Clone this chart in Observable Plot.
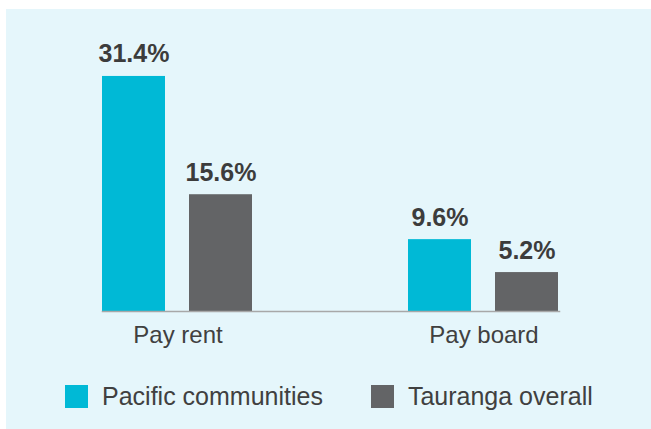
<!DOCTYPE html>
<html>
<head>
<meta charset="utf-8">
<script src="https://cdn.jsdelivr.net/npm/d3@7"></script>
<script src="https://cdn.jsdelivr.net/npm/@observablehq/plot@0.6"></script>
<style>
  html, body { margin: 0; padding: 0; background: #ffffff; }
  body { width: 651px; height: 429px; overflow: hidden; position: relative; font-family: "Liberation Sans", Arial, sans-serif; }
  #panel { position: absolute; left: 6px; top: 9px; width: 645px; height: 420px; background: #e5f6fb; }
  #legend { display: flex; align-items: center; padding-left: 59px; margin-top: 18px; font-size: 25px; color: #404040; line-height: 28px; }
  .item { display: flex; align-items: center; margin-right: 48px; }
  .sw { width: 23px; height: 23px; margin-right: 14px; }
</style>
</head>
<body>
<div id="panel"></div>
<script>
const categories = ["Pay rent", "Pay board"];
const series = ["Pacific communities", "Tauranga overall"];
const colors = ["#00b9d6", "#636466"];
const pacificValues = [31.4, 9.6];
const taurangaValues = [15.6, 5.2];

const rows = [];
categories.forEach((c, i) => {
  rows.push({category: c, series: series[0], value: pacificValues[i]});
  rows.push({category: c, series: series[1], value: taurangaValues[i]});
});

const chart = Plot.plot({
  width: 645,
  height: 355,
  marginLeft: 78,
  marginRight: 73,
  marginTop: 40,
  marginBottom: 53,
  style: {background: "transparent", fontFamily: "'Liberation Sans', Arial, sans-serif", overflow: "visible"},
  fx: {domain: categories, paddingInner: 0.505, paddingOuter: 0.0586, label: null},
  x: {domain: series, paddingInner: 0.273, paddingOuter: 0, axis: null},
  y: {domain: [0, 35], axis: null},
  color: {domain: series, range: colors},
  marks: [
    Plot.barY(rows, {fx: "category", x: "series", y: "value", fill: "series"}),
    Plot.text(rows, {fx: "category", x: "series", y: "value", text: d => d.value.toFixed(1) + "%", dy: -14, lineAnchor: "bottom", fontSize: 25, fontWeight: "bold", fill: "#3c3c3c"}),
    Plot.frame({facet: "super", anchor: "bottom", stroke: "#a8a8a8", strokeWidth: 1.5}),
    Plot.axisFx({anchor: "bottom", tickSize: 0, tickPadding: 14, fontSize: 24, color: "#404040", label: null})
  ]
});

const panel = document.getElementById("panel");
panel.appendChild(chart);

const legend = document.createElement("div");
legend.id = "legend";
series.forEach((s, i) => {
  const item = document.createElement("div");
  item.className = "item";
  const sw = document.createElement("div");
  sw.className = "sw";
  sw.style.background = colors[i];
  const label = document.createElement("span");
  label.textContent = s;
  item.appendChild(sw);
  item.appendChild(label);
  legend.appendChild(item);
});
panel.appendChild(legend);
</script>
</body>
</html>
